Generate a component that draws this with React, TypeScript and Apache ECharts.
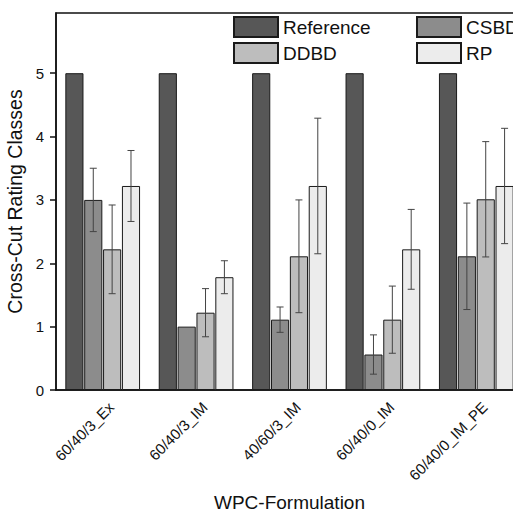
import React, { useEffect, useRef } from "react";
import * as echarts from "echarts";

const categories = ["60/40/3_Ex", "60/40/3_IM", "40/60/3_IM", "60/40/0_IM", "60/40/0_IM_PE"];
const seriesNames = ["Reference", "CSBD", "DDBD", "RP"];
const reference = [5, 5, 5, 5, 5];
const csbd = [3.0, 1.0, 1.11, 0.56, 2.11];
const csbdErr = [0.5, 0, 0.2, 0.31, 0.84];
const ddbd = [2.22, 1.22, 2.11, 1.11, 3.01];
const ddbdErr = [0.7, 0.38, 0.89, 0.53, 0.91];
const rp = [3.22, 1.78, 3.22, 2.22, 3.22];
const rpErr = [0.56, 0.26, 1.07, 0.63, 0.91];
const yTicks = [0, 1, 2, 3, 4, 5];

const colors = ["#575757", "#8c8c8c", "#bdbdbd", "#ececec"];
const FONT = "Liberation Sans, Arial, sans-serif";
const CAT_GAP = 0.2;
const BAR_GAP = 0.04;

export default function App() {
  const ref = useRef<HTMLDivElement>(null);
  useEffect(() => {
    if (!ref.current) return;
    const chart = echarts.init(ref.current, undefined, { renderer: "svg" });
    const values = [reference, csbd, ddbd, rp];
    const errs = [null, csbdErr, ddbdErr, rpErr];
    const errData: number[][] = [];
    for (let s = 1; s < 4; s++) {
      for (let c = 0; c < categories.length; c++) {
        const e = (errs[s] as number[])[c];
        if (e > 0) errData.push([c, s, values[s][c] - e, values[s][c] + e]);
      }
    }
    const barSeries = seriesNames.map((name, i) => ({
      name,
      type: "bar",
      data: values[i],
      barGap: `${BAR_GAP * 100}%`,
      barCategoryGap: `${CAT_GAP * 100}%`,
      itemStyle: { color: colors[i], borderColor: "#1a1a1a", borderWidth: 1 },
    }));
    const legendCommon = {
      orient: "vertical",
      top: 11,
      itemWidth: 44,
      itemHeight: 20,
      itemGap: 4,
      itemTextGap: 5,
      icon: "rect",
      textStyle: { fontSize: 19, color: "#111", fontFamily: FONT },
    };
    chart.setOption({
      animation: false,
      textStyle: { fontFamily: FONT },
      grid: {
        left: 56,
        top: 13,
        right: -10,
        bottom: 119,
        outerBoundsMode: "none",
        containLabel: false,
        show: true,
        borderColor: "#111",
        borderWidth: 1.5,
        backgroundColor: "transparent",
      },
      legend: [
        { ...legendCommon, data: ["Reference", "DDBD"], left: 228 },
        { ...legendCommon, data: ["CSBD", "RP"], left: 411 },
      ],
      xAxis: {
        type: "category",
        data: categories,
        name: "WPC-Formulation",
        nameLocation: "middle",
        nameGap: 93,
        nameTextStyle: { fontSize: 19, color: "#111", fontFamily: FONT },
        axisLine: { lineStyle: { color: "#111", width: 1.5 } },
        axisTick: { alignWithLabel: true, length: 6, lineStyle: { color: "#111", width: 1.5 } },
        axisLabel: {
          rotate: 45,
          fontSize: 15,
          color: "#111",
          margin: 6,
          verticalAlign: "top",
          lineHeight: 24,
          fontFamily: FONT,
        },
      },
      yAxis: {
        type: "value",
        min: 0,
        max: 5.95,
        interval: 1,
        name: "Cross-Cut Rating Classes",
        nameLocation: "middle",
        nameGap: 29,
        nameTextStyle: { fontSize: 19.5, color: "#111", fontFamily: FONT },
        splitLine: { show: false },
        axisLine: { show: true, lineStyle: { color: "#111", width: 1.5 } },
        axisTick: { show: true, length: 6, customValues: yTicks, lineStyle: { color: "#111", width: 1.5 } },
        axisLabel: { fontSize: 15, color: "#111", margin: 12, customValues: yTicks, fontFamily: FONT },
      },
      series: [
        ...barSeries,
        {
          type: "custom",
          data: errData,
          z: 10,
          encode: { x: 0, y: [2, 3] },
          renderItem: (params: any, api: any) => {
            const c = api.value(0);
            const s = api.value(1);
            const lo = api.value(2);
            const hi = api.value(3);
            const bw = api.size([1, 0])[0];
            const avail = bw * (1 - CAT_GAP);
            const barW = avail / (4 + 3 * BAR_GAP);
            const center = api.coord([c, 0])[0];
            const x = center - avail / 2 + s * barW * (1 + BAR_GAP) + barW / 2;
            const yLo = api.coord([c, lo])[1];
            const yHi = api.coord([c, hi])[1];
            const cap = 3.5;
            const style = { stroke: "#444", lineWidth: 1 };
            return {
              type: "group",
              children: [
                { type: "line", shape: { x1: x, y1: yLo, x2: x, y2: yHi }, style },
                { type: "line", shape: { x1: x - cap, y1: yHi, x2: x + cap, y2: yHi }, style },
                { type: "line", shape: { x1: x - cap, y1: yLo, x2: x + cap, y2: yLo }, style },
              ],
            };
          },
        },
      ],
    });
    return () => chart.dispose();
  }, []);
  return <div ref={ref} style={{ position: "fixed", left: 0, top: 0, width: 513, height: 509, background: "#fff" }} />;
}
